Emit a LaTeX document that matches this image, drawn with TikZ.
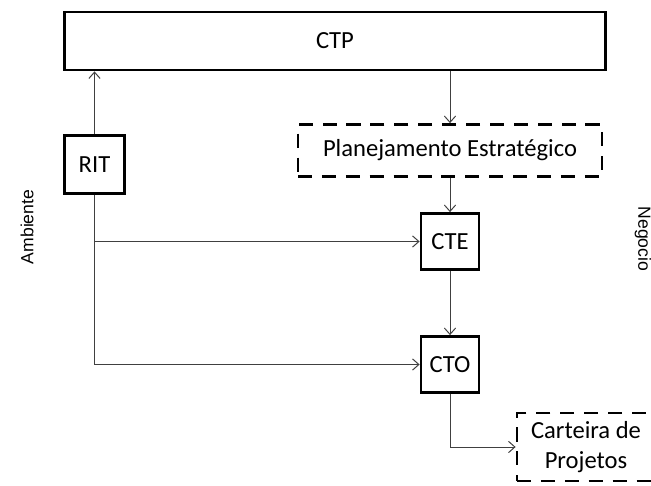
\documentclass[tikz,border=0pt]{standalone}
\usepackage{fontspec}
\setmainfont{Carlito}
\newfontfamily\arialfont{Liberation Sans}
\usetikzlibrary{arrows.meta}

\begin{document}
\begin{tikzpicture}[
    box/.style={rectangle, draw, line width=2pt, fill=white, font=\fontsize{17.5}{21.5}\selectfont, align=center},
    dashbox/.style={box, dash pattern=on 10pt off 7pt},
    link/.style={draw=black!75, line width=0.7pt, -{Straight Barb[length=4.5pt, width=8pt]}},
    side/.style={font=\arialfont\fontsize{12.5}{14}\selectfont}
]
    \clip (0,0) rectangle (16.275,12.15);

    % Draw nodes
    \node[box, minimum width=13.53cm, minimum height=1.45cm] (ctp) at (8.375,11.125) {CTP};
    \node[box, minimum width=1.5cm, minimum height=1.45cm] (rit) at (2.3625,8.0375) {RIT};
    \node[dashbox, minimum width=7.6cm, minimum height=1.3cm] (plan) at (11.25,8.3875) {Planejamento Estratégico};
    \node[box, minimum width=1.45cm, minimum height=1.4cm] (cte) at (11.25,6.1125) {CTE};
    \node[box, minimum width=1.45cm, minimum height=1.4cm] (cto) at (11.25,3.0375) {CTO};
    \node[dashbox, minimum width=3.45cm, minimum height=1.7cm] (cart) at (14.65,0.975) {Carteira de\\Projetos};

    % Draw connections
    \draw[link] (rit) -- (rit |- ctp.south);
    \draw[link] (plan |- ctp.south) -- (plan);
    \draw[link] (plan) -- (cte);
    \draw[link] (rit.south) |- (cte.west);
    \draw[link] (rit.south) |- (cto.west);
    \draw[link] (cte) -- (cto);
    \draw[link] (cto.south) |- (cart.west);

    % Labels
    \node[side, rotate=90] (amb) at (0.675,6.475) {Ambiente};
    \node[side, rotate=-90] (neg) at (16.075,6.175) {Negocio};
\end{tikzpicture}
\end{document}
